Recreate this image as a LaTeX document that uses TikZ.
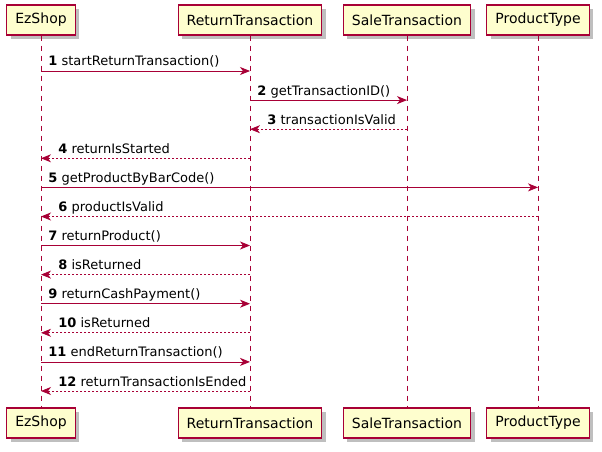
\documentclass[tikz,border=0pt]{standalone}
\usepackage{fontspec}
\setmainfont{DejaVu Sans}
\usepackage{xcolor}
\usepackage{tikz}
\usetikzlibrary{arrows.meta,shadows}
\definecolor{umlred}{HTML}{A80036}
\definecolor{umlfill}{HTML}{FEFECE}

\begin{document}
\begin{tikzpicture}[x=1pt, y=-1pt, >={Stealth[length=10pt, width=8pt, inset=3pt]},
    actor/.style={draw=umlred, line width=1.2pt, fill=umlfill, font=\fontsize{14}{16}\selectfont,
        minimum height=30pt, inner xsep=8.5pt,
        drop shadow={shadow xshift=4pt, shadow yshift=-4pt, fill=black, opacity=0.25}},
    lifeline/.style={umlred, line width=0.8pt, dash pattern=on 5pt off 5pt},
    call/.style={->, umlred, line width=0.8pt},
    reply/.style={->, umlred, line width=0.8pt, dash pattern=on 2pt off 2pt},
    msg/.style={font=\fontsize{13}{15}\selectfont, text=black, anchor=base west, inner sep=0pt, yshift=5pt}]
    \useasboundingbox (0, 0) rectangle (602, 452);
    \node [actor] (ez) at (41, 20) {EzShop};
    \node [actor] (ret) at (250, 20) {ReturnTransaction};
    \node [actor] (sale) at (407, 20) {SaleTransaction};
    \node [actor] (prod) at (538, 20) {ProductType};
    \node [actor] (ez2) at (41, 423) {EzShop};
    \node [actor] (ret2) at (250, 423) {ReturnTransaction};
    \node [actor] (sale2) at (407, 423) {SaleTransaction};
    \node [actor] (prod2) at (538, 423) {ProductType};
    \draw [lifeline] (ez) -- (ez2);
    \draw [lifeline] (ret) -- (ret2);
    \draw [lifeline] (sale) -- (sale2);
    \draw [lifeline] (prod) -- (prod2);
    \coordinate (r1) at (0, 71);
    \coordinate (r2) at (0, 100.1);
    \coordinate (r3) at (0, 129.2);
    \coordinate (r4) at (0, 158.3);
    \coordinate (r5) at (0, 187.4);
    \coordinate (r6) at (0, 216.5);
    \coordinate (r7) at (0, 245.5);
    \coordinate (r8) at (0, 274.6);
    \coordinate (r9) at (0, 303.7);
    \coordinate (r10) at (0, 332.8);
    \coordinate (r11) at (0, 361.9);
    \coordinate (r12) at (0, 391);
    \draw [call] (ez |- r1) -- (ret |- r1) node [msg, pos=0, xshift=7pt] {\textbf{1} startReturnTransaction()};
    \draw [call] (ret |- r2) -- (sale |- r2) node [msg, pos=0, xshift=7pt] {\textbf{2} getTransactionID()};
    \draw [reply] (sale |- r3) -- (ret |- r3) node [msg, pos=1, xshift=17pt] {\textbf{3} transactionIsValid};
    \draw [reply] (ret |- r4) -- (ez |- r4) node [msg, pos=1, xshift=17pt] {\textbf{4} returnIsStarted};
    \draw [call] (ez |- r5) -- (prod |- r5) node [msg, pos=0, xshift=7pt] {\textbf{5} getProductByBarCode()};
    \draw [reply] (prod |- r6) -- (ez |- r6) node [msg, pos=1, xshift=17pt] {\textbf{6} productIsValid};
    \draw [call] (ez |- r7) -- (ret |- r7) node [msg, pos=0, xshift=7pt] {\textbf{7} returnProduct()};
    \draw [reply] (ret |- r8) -- (ez |- r8) node [msg, pos=1, xshift=17pt] {\textbf{8} isReturned};
    \draw [call] (ez |- r9) -- (ret |- r9) node [msg, pos=0, xshift=7pt] {\textbf{9} returnCashPayment()};
    \draw [reply] (ret |- r10) -- (ez |- r10) node [msg, pos=1, xshift=17pt] {\textbf{10} isReturned};
    \draw [call] (ez |- r11) -- (ret |- r11) node [msg, pos=0, xshift=7pt] {\textbf{11} endReturnTransaction()};
    \draw [reply] (ret |- r12) -- (ez |- r12) node [msg, pos=1, xshift=17pt] {\textbf{12} returnTransactionIsEnded};
\end{tikzpicture}
\end{document}
